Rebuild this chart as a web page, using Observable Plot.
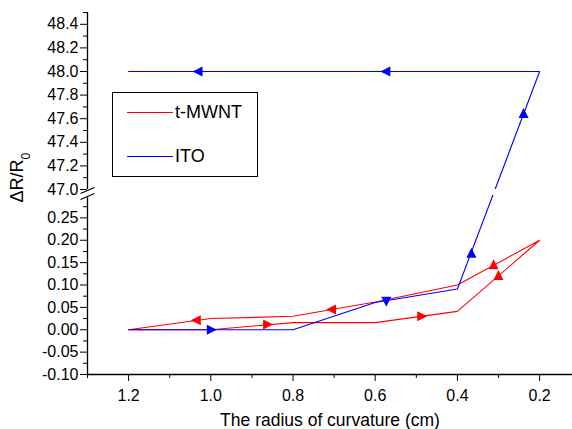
<!DOCTYPE html>
<html>
<head>
<meta charset="utf-8">
<script src="https://cdn.jsdelivr.net/npm/d3@7"></script>
<script src="https://cdn.jsdelivr.net/npm/@observablehq/plot@0.6"></script>
<style>
  html, body { margin: 0; padding: 0; background: #fff; }
  #wrap { position: relative; width: 572px; height: 429px; font-family: "Liberation Sans", Arial, sans-serif; }
  #legend { position: absolute; left: 112px; top: 92px; width: 144px; height: 83px; border: 1px solid #000; background: #fff; }
  .lg-row { position: absolute; left: 0; height: 20px; display: flex; align-items: center; }
  .lg-line { width: 46px; height: 1px; margin-left: 14px; margin-right: 2px; }
  .lg-text { font-size: 18px; color: #000; }
</style>
</head>
<body>
<div id="wrap"></div>
<script>
// ---- data ----
const series = ["t-MWNT", "ITO"];
const seriesColors = ["#ff0000", "#0000ff"];

// t-MWNT: forward (bending) then return path
const redX = [1.2, 1.0, 0.8, 0.6, 0.4, 0.2, 0.4, 0.6, 0.8, 1.0, 1.2];
const redY = [0.000, 0.000, 0.016, 0.016, 0.041, 0.200, 0.100, 0.062, 0.030, 0.025, 0.000];

// ITO
const blueX = [1.2, 1.0, 0.8, 0.6, 0.4, 0.2, 1.2];
const blueY = [0.000, 0.000, 0.000, 0.061, 0.091, 48.0, 48.0];

// direction markers
const redMarkX = [1.034, 0.705, 0.863, 0.488, 0.312, 0.300];
const redMarkY = [0.021, 0.045, 0.012, 0.030, 0.144, 0.120];
const redMarkDir = ["left", "left", "right", "right", "up", "up"];

const blueMarkX = [1.0, 0.573, 0.366, 0.239, 0.573, 1.03];
const blueMarkY = [0.000, 0.065, 0.170, 47.64, 48.0, 48.0];
const blueMarkDir = ["right", "down", "up", "up", "left", "left"];

// axes
const xDomain = [1.3, 0.12];
const xTicks = [1.2, 1.0, 0.8, 0.6, 0.4, 0.2];
const xMinorTicks = [1.3, 1.1, 0.9, 0.7, 0.5, 0.3];
const yLowDomain = [-0.10, 0.30];
const yHighDomain = [47.0, 48.5];
const yLowTicks = [-0.10, -0.05, 0.00, 0.05, 0.10, 0.15, 0.20, 0.25];
const yLowMinor = [-0.075, -0.025, 0.025, 0.075, 0.125, 0.175, 0.225, 0.275];
const yHighTicks = [47.0, 47.2, 47.4, 47.6, 47.8, 48.0, 48.2, 48.4];
const yHighMinor = [47.1, 47.3, 47.5, 47.7, 47.9, 48.1, 48.3, 48.5];
const xLabel = "The radius of curvature (cm)";
const yLabel = "ΔR/R0";

// ---- build ----
const toPts = (xs, ys) => xs.map((x, i) => ({x, y: ys[i]}));
const redPts = toPts(redX, redY);
const bluePts = toPts(blueX, blueY);
const redMarks = redMarkX.map((x, i) => ({x, y: redMarkY[i], dir: redMarkDir[i]}));
const blueMarks = blueMarkX.map((x, i) => ({x, y: blueMarkY[i], dir: blueMarkDir[i]}));

function triSymbol(dir) {
  const ang = {right: 0, down: 90, left: 180, up: -90}[dir] * Math.PI / 180;
  const base = [[6, 0], [-4, -5], [-4, 5]];
  const pts = base.map(([px, py]) => [px * Math.cos(ang) - py * Math.sin(ang), px * Math.sin(ang) + py * Math.cos(ang)]);
  return {draw(ctx) { ctx.moveTo(...pts[0]); ctx.lineTo(...pts[1]); ctx.lineTo(...pts[2]); ctx.closePath(); }};
}
const breakSymbol = {draw(ctx) { ctx.moveTo(-7, 0); ctx.lineTo(7, -6); ctx.moveTo(-7, 6); ctx.lineTo(7, 0); }};

function markerDots(data, color) {
  return ["left", "right", "up", "down"].map(d =>
    Plot.dot(data.filter(m => m.dir === d), {x: "x", y: "y", symbol: triSymbol(d), fill: color, stroke: "none", r: 4})
  );
}

const breakY = yLowDomain[1] + (yHighDomain[0] - yLowDomain[1]) / 3;
const fontFam = "Liberation Sans, Arial, sans-serif";

const chart = Plot.plot({
  width: 572,
  height: 429,
  marginLeft: 87,
  marginRight: 0,
  marginTop: 12,
  marginBottom: 55,
  style: {fontFamily: fontFam, background: "transparent", overflow: "visible"},
  x: {domain: xDomain, label: null},
  y: {type: "linear", domain: [yLowDomain[0], yLowDomain[1], yHighDomain[0], yHighDomain[1]], range: [374, 195, 189, 12], label: null},
  marks: [
    Plot.line(redPts, {x: "x", y: "y", stroke: seriesColors[0], strokeWidth: 1.1}),
    Plot.line(bluePts, {x: "x", y: "y", stroke: seriesColors[1], strokeWidth: 1.1}),
    Plot.rect([0], {x1: xDomain[0], x2: xDomain[1], y1: yLowDomain[1], y2: yHighDomain[0], fill: "white"}),
    ...markerDots(redMarks, seriesColors[0]),
    ...markerDots(blueMarks, seriesColors[1]),
    // spines
    Plot.ruleY([yLowDomain[0]], {stroke: "black", strokeWidth: 1.3}),
    Plot.ruleX([xDomain[0]], {y1: yLowDomain[0], y2: yLowDomain[1] - 0.005, stroke: "black", strokeWidth: 1.3}),
    Plot.ruleX([xDomain[0]], {y1: yHighDomain[0], y2: yHighDomain[1], stroke: "black", strokeWidth: 1.3}),
    Plot.dot([0], {x: () => xDomain[0], y: () => breakY, symbol: breakSymbol, fill: "none", stroke: "black", strokeWidth: 1.3}),
    // axes
    Plot.axisX(xTicks, {anchor: "bottom", tickSize: 7, tickPadding: 8, fontSize: 16, tickFormat: d => d.toFixed(1), label: null}),
    Plot.axisX(xMinorTicks, {anchor: "bottom", tickSize: 4, tickFormat: () => "", label: null}),
    Plot.axisY(yLowTicks, {anchor: "left", tickSize: 7, tickPadding: 2, fontSize: 16, tickFormat: d => d.toFixed(2), label: null}),
    Plot.axisY(yLowMinor, {anchor: "left", tickSize: 4, tickFormat: () => "", label: null}),
    Plot.axisY(yHighTicks, {anchor: "left", tickSize: 7, tickPadding: 2, fontSize: 16, tickFormat: d => d.toFixed(1), label: null}),
    Plot.axisY(yHighMinor, {anchor: "left", tickSize: 4, tickFormat: () => "", label: null}),
    // titles
    Plot.text([xLabel], {text: d => d, frameAnchor: "bottom", dy: 51, fontSize: 17.5, fill: "black"}),
    Plot.text([yLabel], {text: d => d, frameAnchor: "left", dx: -70, dy: 9, rotate: -90, fontSize: 18, fill: "black"})
  ]
});

// subscript on y title
d3.select(chart).selectAll("text").filter(function() { return this.textContent === yLabel; })
  .each(function() {
    const t = d3.select(this);
    t.text("ΔR/R");
    t.append("tspan").attr("baseline-shift", "sub").attr("font-size", "12").text("0");
  });

const wrap = document.getElementById("wrap");
wrap.appendChild(chart);

// legend
const legend = document.createElement("div");
legend.id = "legend";
series.forEach((name, i) => {
  const row = document.createElement("div");
  row.className = "lg-row";
  row.style.top = (i === 0 ? 9 : 53) + "px";
  const ln = document.createElement("div");
  ln.className = "lg-line";
  ln.style.background = seriesColors[i];
  const tx = document.createElement("span");
  tx.className = "lg-text";
  tx.textContent = name;
  row.appendChild(ln);
  row.appendChild(tx);
  legend.appendChild(row);
});
wrap.appendChild(legend);
</script>
</body>
</html>
